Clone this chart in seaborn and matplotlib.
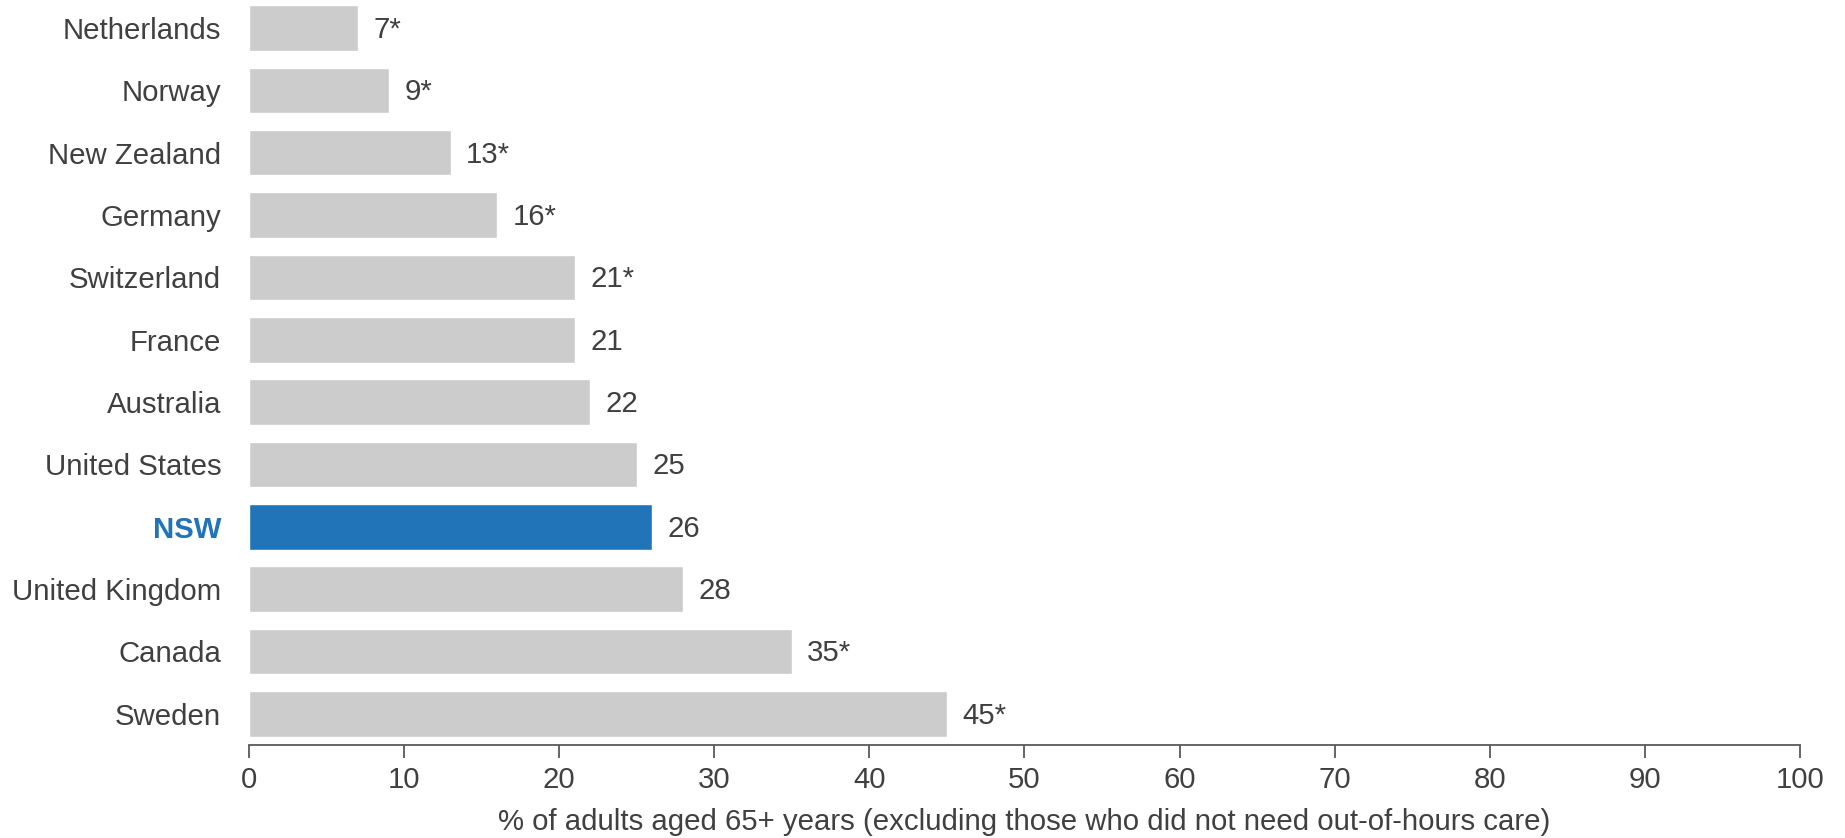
import matplotlib
matplotlib.use("Agg")
import matplotlib.pyplot as plt
import seaborn as sns
import pandas as pd

countries = ["Netherlands", "Norway", "New Zealand", "Germany", "Switzerland", "France",
             "Australia", "United States", "NSW", "United Kingdom", "Canada", "Sweden"]
values = [7, 9, 13, 16, 21, 21, 22, 25, 26, 28, 35, 45]
value_labels = ["7*", "9*", "13*", "16*", "21*", "21", "22", "25", "26", "28", "35*", "45*"]
highlight = "NSW"
x_ticks = [0, 10, 20, 30, 40, 50, 60, 70, 80, 90, 100]
x_title = "% of adults aged 65+ years (excluding those who did not need out-of-hours care)"

GREY = "#CCCCCC"
BLUE = "#2174B8"
TEXT = "#404040"
AXIS = "#595959"

sns.set_theme(style="white")
plt.rcParams["font.family"] = ["Liberation Sans", "DejaVu Sans"]
fs = 21.2

df = pd.DataFrame({"country": countries, "value": values})
df["group"] = ["hl" if c == highlight else "other" for c in countries]

fig = plt.figure(figsize=(18.45, 8.38), dpi=100)
ax = fig.add_axes([0.135, 0.111, 0.8405, 0.889])

sns.barplot(data=df, x="value", y="country", hue="group", order=countries,
            palette={"hl": BLUE, "other": GREY}, dodge=False, legend=False,
            width=0.73, saturation=1, ax=ax)

# value annotations to the right of each bar
for i, (v, lab) in enumerate(zip(values, value_labels)):
    ax.text(v + 1.0, i + 0.03, lab, va="center", ha="left", fontsize=fs, color=TEXT)

ax.set_xlim(0, 100)
ax.set_ylim(11.5, -0.45)
ax.set_xticks(x_ticks)
ax.set_xticklabels([str(t) for t in x_ticks], fontsize=fs, color=TEXT)
ax.set_xlabel(x_title, fontsize=fs, color=TEXT, labelpad=10)
ax.set_ylabel("")
ax.tick_params(axis="x", direction="out", length=9, width=1.3, color=AXIS, pad=6, bottom=True)
ax.tick_params(axis="y", length=0, pad=20)
for lab in ax.get_yticklabels():
    lab.set_fontsize(fs)
    if lab.get_text() == highlight:
        lab.set_color(BLUE)
        lab.set_fontweight("bold")
    else:
        lab.set_color(TEXT)

for s in ["top", "right", "left"]:
    ax.spines[s].set_visible(False)
ax.spines["bottom"].set_color(AXIS)
ax.spines["bottom"].set_linewidth(1.3)

fig.savefig("out.png", dpi=100)
